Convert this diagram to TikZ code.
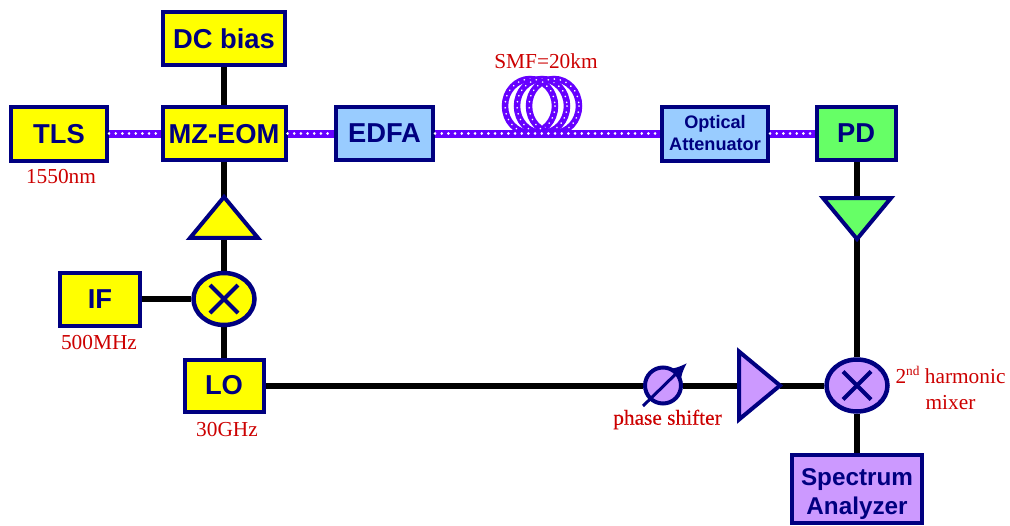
\documentclass[tikz,border=0pt]{standalone}
\usepackage{fontspec}
\setmainfont{Liberation Serif}
\newfontfamily\boxfont{Liberation Sans}[BoldFont={Liberation Sans Bold}]
\newfontfamily\heavyserif{Liberation Serif}[FakeBold=0.2]
\usetikzlibrary{shapes.geometric,arrows.meta}
\definecolor{navyb}{HTML}{000080}
\definecolor{yel}{HTML}{FFFF00}
\definecolor{lblue}{HTML}{99CCFF}
\definecolor{lgreen}{HTML}{66FF66}
\definecolor{lpurple}{HTML}{CC99FF}
\definecolor{fibre}{HTML}{6600FF}
\definecolor{lab}{HTML}{CC0000}
\def\px{0.75pt}
\pgfdeclarelayer{under}
\pgfsetlayers{under,main}
\newcommand{\lowered}[2]{\raisebox{-#1}[\height][\depth]{\begin{tabular}{@{}c@{}}#2\end{tabular}}}
\newcommand{\nudged}[2]{\raisebox{#1}[\height][\depth]{#2}}
\tikzset{
  blockbox/.style={draw=navyb,line width=4*\px,rectangle,inner sep=0pt,align=center,text=navyb,font=\boxfont\bfseries\fontsize{20.5}{24}\selectfont},
  wire/.style={draw=black,line width=6*\px},
  fibreline/.style={draw=fibre,line width=8*\px,postaction={draw=white,line width=2pt,line cap=round,dash pattern=on 0.1pt off 4.9pt}},
  coil/.style={draw=fibre,line width=6.5*\px,postaction={draw=white,line width=1.3pt,line cap=round,dash pattern=on 0.1pt off 4.5pt}},
  mixer/.style={draw=navyb,line width=4.5*\px,ellipse,inner sep=0pt,minimum width=61*\px,minimum height=52*\px},
  crossmark/.style={draw=navyb,line width=4*\px},
  ampshape/.style={draw=navyb,line width=4*\px,isosceles triangle,isosceles triangle apex angle=79,inner sep=0pt,outer sep=0pt,minimum height=41*\px,minimum width=68*\px,isosceles triangle stretches},
  labeltext/.style={text=lab,font=\fontsize{16}{18.5}\selectfont,inner sep=0pt,align=center},
}
\begin{document}
\begin{tikzpicture}[x=0.75pt,y=-0.75pt]
\useasboundingbox (0,0) rectangle (1010,525);
% blocks
\node[blockbox,fill=yel,minimum width=96*\px,minimum height=54*\px] (tls) at (59,133.5) {\nudged{-0.6pt}{TLS}};
\node[blockbox,fill=yel,minimum width=122*\px,minimum height=53*\px] (dc) at (224,38.5) {DC bias};
\node[blockbox,fill=yel,minimum width=123*\px,minimum height=53*\px] (mz) at (224,133.5) {\nudged{-0.6pt}{MZ-EOM}};
\node[blockbox,fill=lblue,minimum width=97*\px,minimum height=53*\px] (edfa) at (384.5,133.5) {\nudged{0.6pt}{EDFA}};
\node[blockbox,fill=lblue,minimum width=106*\px,minimum height=54*\px,font=\boxfont\bfseries\fontsize{13.6}{16.5}\selectfont] (att) at (715,133.5) {\lowered{1.5pt}{Optical\\Attenuator}};
\node[blockbox,fill=lgreen,minimum width=79*\px,minimum height=53*\px] (pd) at (856,133.5) {PD};
\node[blockbox,fill=yel,minimum width=80*\px,minimum height=53*\px] (if) at (100,299) {IF};
\node[blockbox,fill=yel,minimum width=79*\px,minimum height=52*\px] (lo) at (224,385.5) {LO};
\node[blockbox,fill=lpurple,minimum width=130*\px,minimum height=68*\px,font=\boxfont\bfseries\fontsize{18.2}{21.5}\selectfont] (sa) at (857,489) {\lowered{3.7pt}{Spectrum\\Analyzer}};
% mixers
\node[mixer,fill=yel] (m1) at (224,299) {};
\node[mixer,fill=lpurple] (m2) at (857,385.5) {};
\foreach \m in {m1,m2}{
  \draw[crossmark] ([shift={(-14,-14)}]\m.center) -- ([shift={(14,14)}]\m.center);
  \draw[crossmark] ([shift={(-14,14)}]\m.center) -- ([shift={(14,-14)}]\m.center);
}
% amplifiers
\node[ampshape,fill=yel,shape border rotate=90] (a1) at (224,222) {};
\node[ampshape,fill=lgreen,shape border rotate=-90] (a2) at (857,214) {};
\node[ampshape,fill=lpurple] (a3) at (755,385.5) {};
% phase shifter
\node[circle,draw=navyb,line width=4*\px,fill=lpurple,minimum size=36*\px,inner sep=0pt] (ps) at (663,385.5) {};
\coordinate (psa) at (643,406);
\coordinate (psb) at (687,363);
\draw[draw=navyb,line width=3*\px,-{Latex[length=15*\px,width=14*\px]}] (psa) -- (psb);
% wires
\begin{pgfonlayer}{under}
\draw[wire] (dc.south) -- (mz.north);
\draw[wire] (mz.south) -- (a1.apex);
\draw[wire] (a1.lower side) -- (m1.north);
\draw[wire] (if.east) -- (m1.west);
\draw[wire] (m1.south) -- (lo.north);
\draw[wire] (lo.east) -- (ps.west);
\draw[wire] (ps.east) -- (a3.lower side);
\draw[wire] (a3.apex) -- (m2.west);
\draw[wire] (pd.south-|a2.apex) -- (a2.lower side);
\draw[wire] (a2.apex) -- (m2.north);
\draw[wire] (m2.south) -- (sa.north);
\end{pgfonlayer}
% fibre
\coordinate (c1) at (530,106);
\coordinate (c2) at (542,106);
\coordinate (c3) at (554,106);
\foreach \c in {c1,c2,c3}{\draw[coil] (\c) ellipse [x radius=25,y radius=27];}
\draw[fibreline] (tls.east) -- (mz.west);
\draw[fibreline] (mz.east) -- (edfa.west);
\draw[fibreline] (edfa.east) -- (att.west);
\draw[fibreline] (att.east) -- (pd.west);
% labels
\node[labeltext] (l1) at (61,176.5) {1550nm};
\node[labeltext] (l2) at (99,342.5) {500MHz};
\node[labeltext] (l3) at (227,429.5) {30GHz};
\node[labeltext] (l4) at (546,61) {SMF=20km};
\node[labeltext,font=\heavyserif\fontsize{16}{18.5}\selectfont] (l5) at (667.5,419.5) {phase shifter};
\node[labeltext] (l6) at (950.5,388) {2\raisebox{0.35em}{\fontsize{10}{12}\selectfont nd} harmonic\\[1pt]mixer};
\end{tikzpicture}
\end{document}
